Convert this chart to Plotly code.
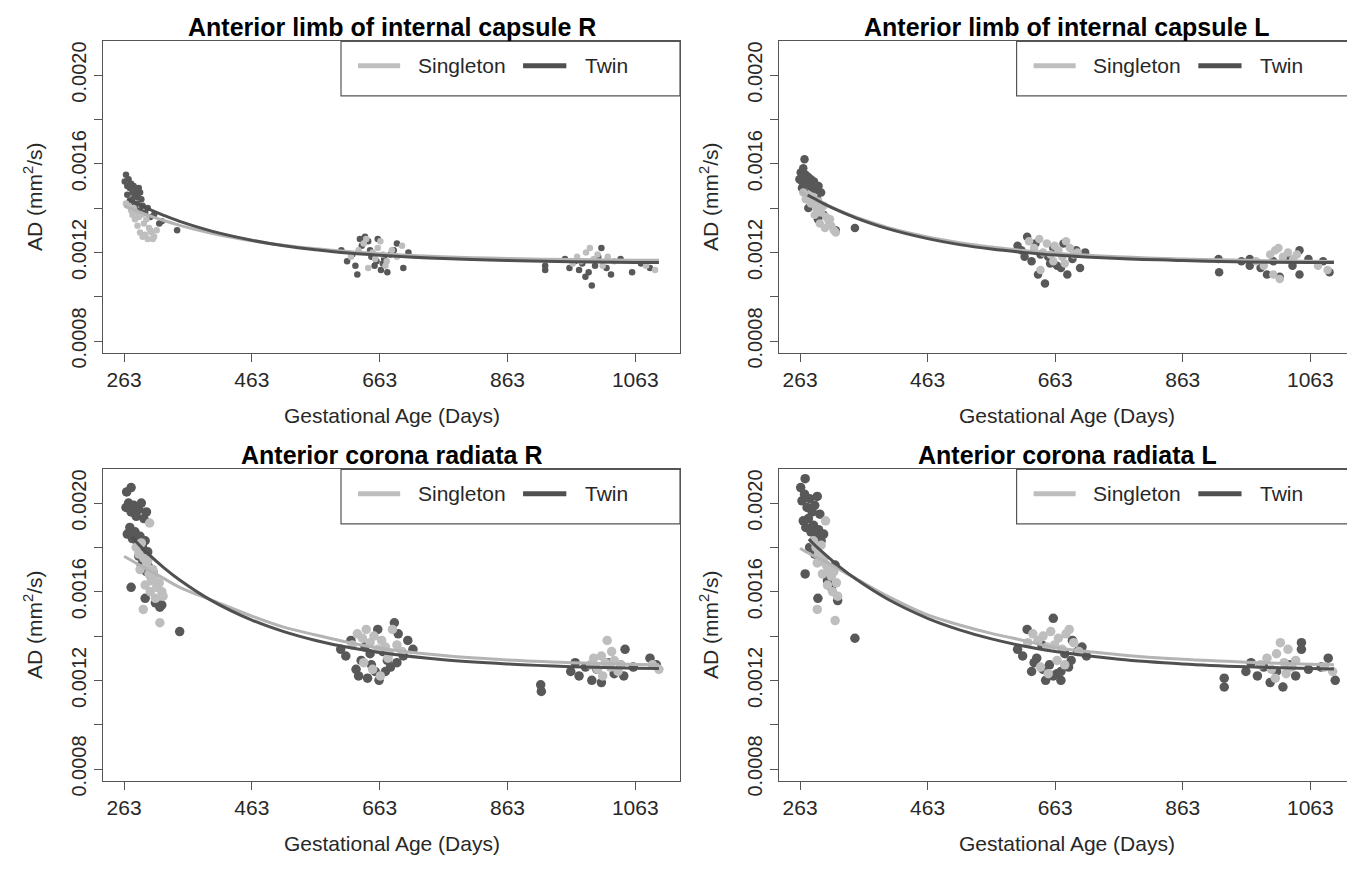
import plotly.graph_objects as go

# ---------------- data ----------------
titles = ["Anterior limb of internal capsule R", "Anterior limb of internal capsule L",
          "Anterior corona radiata R", "Anterior corona radiata L"]
x_ticks = [263, 463, 663, 863, 1063]
y_ticks = [0.0008, 0.0010, 0.0012, 0.0014, 0.0016, 0.0018, 0.0020]
y_tick_text = ["0.0008", "", "0.0012", "", "0.0016", "", "0.0020"]
group_names = ["Singleton", "Twin"]

# Panel 1: Anterior limb of internal capsule R
alicR_twin_x = [264, 266, 268, 270, 272, 274, 276, 278, 280, 282, 284, 286, 288, 290, 268, 272, 276, 280, 284, 288, 292, 296, 300, 304, 310, 318, 322, 346,
                603, 612, 620, 628, 635, 640, 645, 650, 655, 660, 665, 670, 675, 680, 690, 700, 708, 625, 632, 648, 658, 668, 685,
                922, 922, 953, 960, 968, 975, 980, 985, 990, 995, 1000, 1005, 1010, 1018, 1025, 1040, 1058, 1072, 1086]
alicR_twin_y = [0.00152, 0.00155, 0.00150, 0.00153, 0.00149, 0.00151, 0.00147, 0.00150, 0.00146, 0.00148, 0.00145, 0.00149, 0.00147, 0.00144, 0.00146, 0.00143, 0.00144, 0.00141, 0.00142, 0.00139, 0.00141, 0.00138, 0.00140, 0.00136, 0.00137, 0.00133, 0.00134, 0.00130,
                0.00121, 0.00116, 0.00119, 0.00110, 0.00123, 0.00127, 0.00125, 0.00118, 0.00114, 0.00126, 0.00112, 0.00117, 0.00111, 0.00119, 0.00124, 0.00113, 0.00120, 0.00114, 0.00126, 0.00121, 0.00116, 0.00115, 0.00121,
                0.00114, 0.00112, 0.00117, 0.00113, 0.00116, 0.00112, 0.00115, 0.00109, 0.00111, 0.00105, 0.00114, 0.00118, 0.00122, 0.00113, 0.00110, 0.00117, 0.00111, 0.00115, 0.00113]
alicR_single_x = [266, 270, 274, 278, 282, 286, 290, 294, 298, 302, 306, 310, 314, 284, 288, 292, 296, 300, 304, 308, 280, 276,
                  618, 630, 638, 645, 652, 660, 668, 674, 682, 690, 698, 642, 656, 664, 672,
                  965, 972, 978, 986, 992, 998, 1004, 1012, 1020, 1030, 1080, 1094]
alicR_single_y = [0.00142, 0.00141, 0.00139, 0.00140, 0.00138, 0.00136, 0.00137, 0.00133, 0.00135, 0.00131, 0.00129, 0.00127, 0.00130, 0.00132, 0.00129, 0.00127, 0.00128, 0.00126, 0.00130, 0.00126, 0.00135, 0.00137,
                  0.00118, 0.00121, 0.00124, 0.00113, 0.00120, 0.00122, 0.00119, 0.00116, 0.00121, 0.00118, 0.00123, 0.00126, 0.00117, 0.00125, 0.00114,
                  0.00115, 0.00118, 0.00116, 0.00120, 0.00122, 0.00117, 0.00119, 0.00114, 0.00118, 0.00116, 0.00114, 0.00112]

# Panel 2: Anterior limb of internal capsule L
alicL_twin_x = [262, 264, 266, 268, 270, 272, 274, 276, 278, 280, 282, 285, 288, 292, 296, 266, 270, 276, 280, 284, 290, 276, 291, 300, 319, 349,
                604, 610, 619, 626, 632, 640, 647, 652, 660, 666, 672, 682, 690, 702, 710, 615, 636, 655, 676, 696,
                919, 920, 955, 968, 968, 985, 995, 1005, 1015, 1025, 1035, 1046, 1046, 1060, 1083, 1093]
alicL_twin_y = [0.00153, 0.00156, 0.00152, 0.00158, 0.00162, 0.00155, 0.00151, 0.00154, 0.00150, 0.00153, 0.00149, 0.00152, 0.00148, 0.00150, 0.00147, 0.00149, 0.00147, 0.00145, 0.00143, 0.00141, 0.00144, 0.00140, 0.00135, 0.00137, 0.00130, 0.00131,
                0.00123, 0.00121, 0.00127, 0.00116, 0.00124, 0.00119, 0.00106, 0.00118, 0.00122, 0.00114, 0.00113, 0.00110, 0.00117, 0.00113, 0.00120, 0.00118, 0.00110, 0.00115, 0.00124, 0.00121,
                0.00117, 0.00111, 0.00116, 0.00117, 0.00114, 0.00113, 0.00110, 0.00116, 0.00109, 0.00118, 0.00114, 0.00121, 0.00110, 0.00117, 0.00116, 0.00111]
alicL_single_x = [268, 272, 276, 280, 284, 288, 292, 296, 300, 304, 308, 312, 316, 319, 286, 294, 302, 310,
                  622, 630, 638, 644, 650, 656, 662, 668, 674, 680, 686, 692, 640, 660, 678, 698,
                  978, 990, 1000, 1008, 1013, 1020, 1028, 1036, 1042, 1005, 1015, 1075, 1090]
alicL_single_y = [0.00147, 0.00144, 0.00146, 0.00142, 0.00145, 0.00140, 0.00143, 0.00138, 0.00141, 0.00136, 0.00134, 0.00132, 0.00130, 0.00129, 0.00137, 0.00133, 0.00131, 0.00135,
                  0.00125, 0.00122, 0.00126, 0.00120, 0.00124, 0.00119, 0.00123, 0.00121, 0.00118, 0.00125, 0.00122, 0.00119, 0.00112, 0.00116, 0.00115, 0.00120,
                  0.00116, 0.00114, 0.00119, 0.00121, 0.00122, 0.00118, 0.00120, 0.00117, 0.00119, 0.00110, 0.00108, 0.00114, 0.00112]

# Panel 3: Anterior corona radiata R
acrR_twin_x = [267, 274, 266, 270, 274, 278, 282, 286, 290, 294, 298, 268, 272, 276, 280, 284, 288, 292, 296, 300, 286, 290, 294, 298, 302, 306, 274, 296, 308, 312, 319, 322, 350,
               602, 610, 618, 626, 634, 640, 644, 650, 656, 660, 662, 668, 675, 680, 686, 692, 700, 707, 715, 630, 648, 672, 690,
               915, 916, 962, 969, 975, 985, 995, 1003, 1010, 1020, 1030, 1040, 1045, 1047, 1060, 1086, 1096]
acrR_twin_y = [0.00205, 0.00207, 0.00198, 0.00200, 0.00196, 0.00199, 0.00194, 0.00197, 0.00200, 0.00193, 0.00196, 0.00186, 0.00189, 0.00184, 0.00187, 0.00182, 0.00185, 0.00180, 0.00183, 0.00178, 0.00176, 0.00172, 0.00174, 0.00169, 0.00171, 0.00166, 0.00162, 0.00157, 0.00169, 0.00155, 0.00153, 0.00154, 0.00142,
               0.00134, 0.00131, 0.00138, 0.00125, 0.00129, 0.00135, 0.00121, 0.00127, 0.00124, 0.00143, 0.00120, 0.00133, 0.00129, 0.00126, 0.00146, 0.00141, 0.00131, 0.00138, 0.00134, 0.00122, 0.00132, 0.00124, 0.00128,
               0.00118, 0.00115, 0.00124, 0.00128, 0.00122, 0.00126, 0.00120, 0.00125, 0.00119, 0.00128, 0.00123, 0.00127, 0.00122, 0.00134, 0.00126, 0.00130, 0.00127]
acrR_single_x = [303, 282, 286, 290, 294, 298, 302, 306, 310, 314, 318, 322, 288, 296, 304, 312, 293, 319, 324, 300, 308,
                 620, 628, 636, 642, 648, 654, 660, 666, 672, 678, 683, 690, 698, 638, 652, 664, 676,
                 993, 998, 1004, 1010, 1016, 1019, 1024, 1030, 1036, 1040, 1012, 1026, 1090, 1100]
acrR_single_y = [0.00191, 0.00180, 0.00177, 0.00182, 0.00175, 0.00172, 0.00168, 0.00165, 0.00167, 0.00162, 0.00164, 0.00160, 0.00170, 0.00163, 0.00160, 0.00157, 0.00152, 0.00146, 0.00158, 0.00174, 0.00170,
                 0.00136, 0.00141, 0.00139, 0.00143, 0.00137, 0.00140, 0.00134, 0.00138, 0.00135, 0.00132, 0.00143, 0.00136, 0.00133, 0.00128, 0.00125, 0.00122, 0.00130,
                 0.00127, 0.00130, 0.00125, 0.00131, 0.00128, 0.00138, 0.00126, 0.00129, 0.00124, 0.00127, 0.00122, 0.00133, 0.00127, 0.00125]

# Panel 4: Anterior corona radiata L
acrL_twin_x = [271, 264, 266, 270, 274, 278, 282, 286, 290, 294, 268, 272, 276, 280, 284, 288, 292, 296, 300, 278, 286, 294, 271, 291, 306, 312, 318, 322, 349,
               604, 612, 619, 626, 634, 642, 648, 654, 660, 666, 672, 678, 684, 690, 698, 705, 712, 630, 644, 660, 672, 688,
               928, 928, 962, 970, 980, 990, 1000, 1010, 1020, 1030, 1040, 1049, 1049, 1060, 1080, 1091, 1102]
acrL_twin_y = [0.00211, 0.00207, 0.00201, 0.00204, 0.00198, 0.00202, 0.00196, 0.00199, 0.00203, 0.00195, 0.00192, 0.00189, 0.00193, 0.00187, 0.00190, 0.00185, 0.00188, 0.00183, 0.00186, 0.00180, 0.00177, 0.00174, 0.00168, 0.00157, 0.00165, 0.00162, 0.00172, 0.00156, 0.00139,
               0.00134, 0.00131, 0.00143, 0.00124, 0.00130, 0.00136, 0.00120, 0.00127, 0.00148, 0.00123, 0.00120, 0.00132, 0.00126, 0.00138, 0.00133, 0.00135, 0.00131, 0.00128, 0.00125, 0.00122, 0.00124, 0.00129,
               0.00121, 0.00117, 0.00124, 0.00128, 0.00122, 0.00126, 0.00119, 0.00124, 0.00117, 0.00127, 0.00122, 0.00137, 0.00134, 0.00125, 0.00126, 0.00130, 0.00120]
acrL_single_x = [303, 284, 288, 292, 296, 300, 304, 308, 312, 316, 320, 290, 298, 306, 314, 318, 290, 322,
                 620, 628, 636, 644, 650, 656, 662, 668, 674, 680, 685, 692, 700, 640, 652, 666, 678,
                 985, 995, 1002, 1010, 1016, 1022, 1028, 1034, 1040, 1008, 1025, 1085, 1098]
acrL_single_y = [0.00192, 0.00183, 0.00180, 0.00177, 0.00181, 0.00175, 0.00172, 0.00170, 0.00167, 0.00169, 0.00164, 0.00173, 0.00168, 0.00163, 0.00160, 0.00147, 0.00152, 0.00158,
                 0.00137, 0.00141, 0.00138, 0.00140, 0.00135, 0.00142, 0.00136, 0.00139, 0.00134, 0.00141, 0.00143, 0.00137, 0.00133, 0.00126, 0.00123, 0.00129, 0.00127,
                 0.00127, 0.00130, 0.00125, 0.00132, 0.00137, 0.00128, 0.00134, 0.00126, 0.00129, 0.00121, 0.00123, 0.00126, 0.00124]

# fitted curves
curve_x_single = [263, 280, 300, 325, 350, 400, 463, 513, 563, 613, 663, 763, 863, 963, 1063, 1100]
alicR_twin_curve_x = [268, 280, 300, 325, 350, 400, 463, 513, 563, 613, 663, 763, 863, 963, 1063, 1100]
alicR_twin_curve_y = [0.001443, 0.001424, 0.001397, 0.001367, 0.001340, 0.001296, 0.001255, 0.001230, 0.001212, 0.001197, 0.001187, 0.001172, 0.001163, 0.001158, 0.001154, 0.001154]
alicR_single_curve_y = [0.001410, 0.001390, 0.001368, 0.001344, 0.001322, 0.001286, 0.001252, 0.001232, 0.001216, 0.001204, 0.001194, 0.001180, 0.001172, 0.001168, 0.001165, 0.001164]
alicL_twin_curve_x = [275, 280, 300, 325, 350, 400, 463, 513, 563, 613, 663, 763, 863, 963, 1063, 1100]
alicL_twin_curve_y = [0.001459, 0.001451, 0.001420, 0.001386, 0.001356, 0.001307, 0.001262, 0.001235, 0.001215, 0.001200, 0.001188, 0.001172, 0.001163, 0.001157, 0.001154, 0.001154]
alicL_single_curve_y = [0.001475, 0.001448, 0.001420, 0.001388, 0.001360, 0.001313, 0.001270, 0.001244, 0.001224, 0.001208, 0.001196, 0.001180, 0.001170, 0.001164, 0.001160, 0.001159]
acrR_twin_curve_x = [275, 280, 300, 325, 350, 400, 463, 513, 563, 613, 663, 763, 863, 963, 1063, 1100]
acrR_twin_curve_y = [0.001848, 0.001831, 0.001773, 0.001709, 0.001653, 0.001560, 0.001472, 0.001420, 0.001380, 0.001349, 0.001326, 0.001293, 0.001274, 0.001262, 0.001255, 0.001253]
acrR_single_curve_y = [0.001760, 0.001732, 0.001700, 0.001660, 0.001620, 0.001562, 0.001490, 0.001440, 0.001405, 0.001372, 0.001345, 0.001312, 0.001292, 0.001280, 0.001272, 0.001270]
acrL_twin_curve_x = [277, 280, 300, 325, 350, 400, 463, 513, 563, 613, 663, 763, 863, 963, 1063, 1100]
acrL_twin_curve_y = [0.001838, 0.001828, 0.001774, 0.001712, 0.001658, 0.001567, 0.001480, 0.001428, 0.001387, 0.001355, 0.001330, 0.001295, 0.001274, 0.001261, 0.001253, 0.001251]
acrL_single_curve_y = [0.001796, 0.001768, 0.001740, 0.001700, 0.001660, 0.001580, 0.001495, 0.001450, 0.001412, 0.001380, 0.001348, 0.001316, 0.001295, 0.001282, 0.001273, 0.001270]

panels = [
    (alicR_twin_x, alicR_twin_y, alicR_single_x, alicR_single_y, alicR_twin_curve_x, alicR_twin_curve_y, alicR_single_curve_y),
    (alicL_twin_x, alicL_twin_y, alicL_single_x, alicL_single_y, alicL_twin_curve_x, alicL_twin_curve_y, alicL_single_curve_y),
    (acrR_twin_x, acrR_twin_y, acrR_single_x, acrR_single_y, acrR_twin_curve_x, acrR_twin_curve_y, acrR_single_curve_y),
    (acrL_twin_x, acrL_twin_y, acrL_single_x, acrL_single_y, acrL_twin_curve_x, acrL_twin_curve_y, acrL_single_curve_y),
]

# ---------------- styling / layout ----------------
W, H = 1355, 871
FONT = "Liberation Sans, Arial, Helvetica, sans-serif"
TWIN_C = "rgb(88,88,88)"
SINGLE_C = "rgb(190,190,190)"
AXIS_C = "rgb(85,85,85)"
TEXT_C = "rgb(40,40,40)"

box_x = [(95, 672), (771, 1347)]
box_y = [(34, 351), (470, 787)]
marker_sizes = [6.5, 8.5, 9.5, 9.5]

fig = go.Figure()
layout = dict(width=W, height=H, margin=dict(l=0, r=0, t=0, b=0),
              paper_bgcolor="white", plot_bgcolor="white", showlegend=False,
              font=dict(family=FONT, color=TEXT_C))
annotations = []
shapes = []

for i, (tx, ty, sx, sy, tcx, tcy, scy) in enumerate(panels):
    col, row = i % 2, i // 2
    xa = "x" if i == 0 else f"x{i+1}"
    ya = "y" if i == 0 else f"y{i+1}"
    x0p, x1p = box_x[col]
    y0p, y1p = box_y[row]
    xdom = [x0p / W, x1p / W]
    ydom = [1 - y1p / H, 1 - y0p / H]
    ms = marker_sizes[i]

    fig.add_trace(go.Scatter(x=tx, y=ty, mode="markers", xaxis=xa, yaxis=ya,
                             marker=dict(color=TWIN_C, size=ms), name="Twin"))
    fig.add_trace(go.Scatter(x=sx, y=sy, mode="markers", xaxis=xa, yaxis=ya,
                             marker=dict(color=SINGLE_C, size=ms), name="Singleton"))
    fig.add_trace(go.Scatter(x=curve_x_single, y=scy, mode="lines", xaxis=xa, yaxis=ya,
                             line=dict(color="rgb(180,180,180)", width=3, shape="spline"), name="Singleton fit"))
    fig.add_trace(go.Scatter(x=tcx, y=tcy, mode="lines", xaxis=xa, yaxis=ya,
                             line=dict(color="rgb(80,80,80)", width=3, shape="spline"), name="Twin fit"))

    axkey_x = "xaxis" if i == 0 else f"xaxis{i+1}"
    axkey_y = "yaxis" if i == 0 else f"yaxis{i+1}"
    layout[axkey_x] = dict(domain=xdom, anchor=ya, range=[230, 1133], tickvals=x_ticks,
                           ticks="outside", ticklen=8, tickcolor=AXIS_C, tickwidth=1.2,
                           showline=True, mirror=True, linecolor=AXIS_C, linewidth=1.2,
                           showgrid=False, zeroline=False,
                           tickfont=dict(size=21, color=TEXT_C, family=FONT))
    layout[axkey_y] = dict(domain=ydom, anchor=xa, range=[0.000748, 0.002152], tickvals=y_ticks,
                           ticktext=y_tick_text, tickangle=-90,
                           ticks="outside", ticklen=8, tickcolor=AXIS_C, tickwidth=1.2,
                           showline=True, mirror=True, linecolor=AXIS_C, linewidth=1.2,
                           showgrid=False, zeroline=False,
                           tickfont=dict(size=20, color=TEXT_C, family=FONT))

    cx = (xdom[0] + xdom[1]) / 2
    # panel title
    annotations.append(dict(text="<b>" + titles[i] + "</b>", x=cx, y=1 - (y0p - 15) / H,
                            xref="paper", yref="paper", showarrow=False, xanchor="center", yanchor="middle",
                            font=dict(size=25, color="black", family=FONT)))
    # x title
    annotations.append(dict(text="Gestational Age (Days)", x=cx, y=1 - (y1p + 64) / H,
                            xref="paper", yref="paper", showarrow=False, xanchor="center", yanchor="middle",
                            font=dict(size=21, color=TEXT_C, family=FONT)))
    # y title
    annotations.append(dict(text="AD (mm<sup>2</sup>/s)", x=(x0p - 70) / W, y=(ydom[0] + ydom[1]) / 2,
                            xref="paper", yref="paper", showarrow=False, textangle=-90,
                            xanchor="center", yanchor="middle",
                            font=dict(size=21, color=TEXT_C, family=FONT)))
    # legend box
    xd, yd = f"{xa} domain", f"{ya} domain"
    shapes.append(dict(type="rect", xref=xd, yref=yd, x0=0.4125, x1=1.0, y0=0.825, y1=1.0,
                       line=dict(color=AXIS_C, width=1.2), fillcolor="white", layer="above"))
    shapes.append(dict(type="line", xref=xd, yref=yd, x0=0.442, x1=0.515, y0=0.922, y1=0.922,
                       line=dict(color=SINGLE_C, width=5)))
    shapes.append(dict(type="line", xref=xd, yref=yd, x0=0.728, x1=0.803, y0=0.922, y1=0.922,
                       line=dict(color="rgb(80,80,80)", width=5)))
    annotations.append(dict(text=group_names[0], xref=xd, yref=yd, x=0.5425, y=0.922,
                            showarrow=False, xanchor="left", yanchor="middle",
                            font=dict(size=21, color=TEXT_C, family=FONT)))
    annotations.append(dict(text=group_names[1], xref=xd, yref=yd, x=0.832, y=0.922,
                            showarrow=False, xanchor="left", yanchor="middle",
                            font=dict(size=21, color=TEXT_C, family=FONT)))

layout["annotations"] = annotations
layout["shapes"] = shapes
fig.update_layout(**layout)
fig.write_html("out.html")
